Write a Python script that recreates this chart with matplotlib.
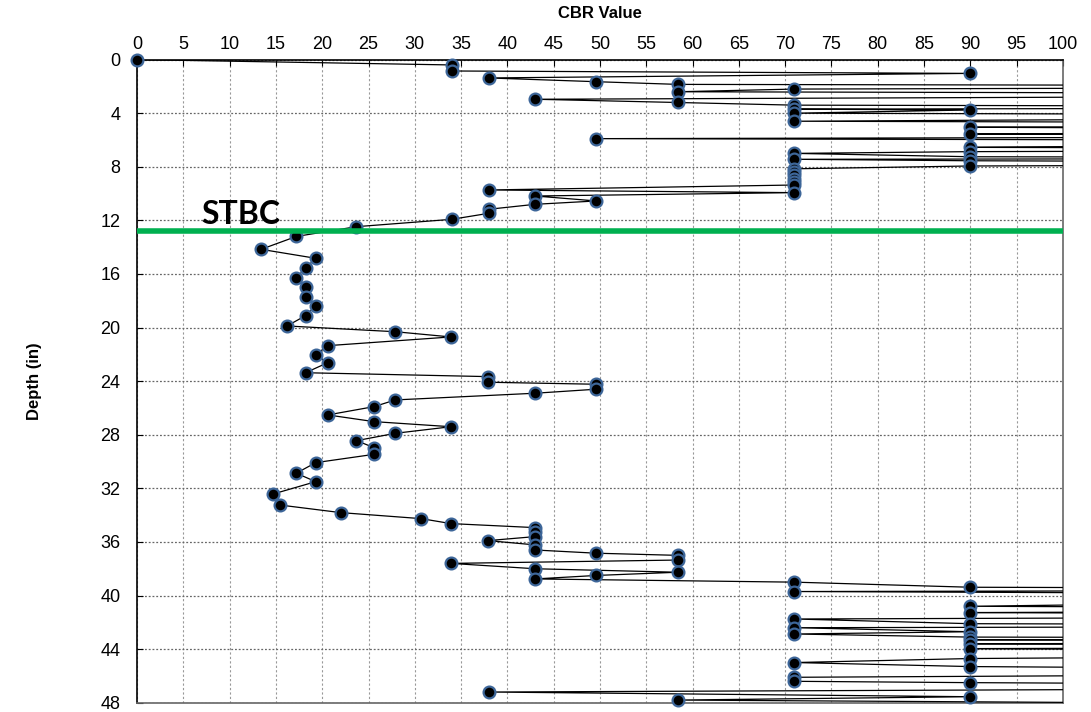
import matplotlib
matplotlib.use("Agg")
import matplotlib.pyplot as plt
import numpy as np

plt.rcParams['font.family'] = ['Liberation Sans', 'DejaVu Sans']

# DCP trace: depth (in) and CBR value; 180 stands for values off the chart (>100)
depth = [0.0, 0.4, 0.85, 1.03, 1.37, 1.65, 1.85, 2.0, 2.2, 2.4, 2.6, 2.96, 3.2, 3.4,
         3.55, 3.7, 3.76, 4.0, 4.2, 4.6, 4.8, 5.05, 5.3, 5.55, 5.7, 5.9, 6.1, 6.55,
         6.7, 6.87, 7.0, 7.25, 7.35, 7.44, 7.55, 7.75, 7.94, 8.15, 8.4, 8.65, 8.9,
         9.15, 9.36, 9.73, 9.93, 10.18, 10.55, 10.8, 11.17, 11.47, 11.92, 12.47,
         13.2, 14.16, 14.83, 15.57, 16.28, 16.99, 17.69, 18.39, 19.11, 19.88, 20.31,
         20.7, 21.35, 22.02, 22.62, 23.37, 23.66, 24.08, 24.23, 24.6, 24.9, 25.4,
         25.9, 26.52, 27.02, 27.4, 27.89, 28.44, 28.96, 29.46, 30.08, 30.87, 31.5,
         32.42, 33.24, 33.81, 34.26, 34.63, 34.93, 35.23, 35.6, 35.9, 36.22, 36.6,
         36.84, 37.0, 37.35, 37.6, 38.0, 38.26, 38.5, 38.76, 39.0, 39.38, 39.55,
         39.7, 40.0, 40.8, 41.05, 41.27, 41.5, 41.75, 42.1, 42.25, 42.4, 42.7,
         42.87, 43.1, 43.2, 43.3, 43.45, 43.6, 43.8, 43.96, 44.3, 44.7, 45.0, 45.3,
         45.7, 46.1, 46.4, 46.5, 46.8, 47.2, 47.55, 47.8, 48.3]
cbr = [0, 34, 34, 90, 38, 49.6, 58.4, 180, 71, 58.4, 180, 43, 58.4, 71,
       180, 71, 90, 71, 180, 71, 180, 90, 180, 90, 180, 49.6, 180, 90,
       180, 90, 71, 90, 180, 71, 90, 180, 90, 71, 71, 71, 71,
       71, 71, 38, 71, 43, 49.6, 43, 38, 38, 34, 23.7,
       17.2, 13.4, 19.3, 18.2, 17.2, 18.2, 18.2, 19.3, 18.2, 16.2, 27.9,
       33.9, 20.6, 19.3, 20.6, 18.2, 37.9, 37.9, 49.6, 49.6, 43, 27.9,
       25.6, 20.6, 25.6, 33.9, 27.9, 23.7, 25.6, 25.6, 19.3, 17.2, 19.3,
       14.7, 15.4, 22.0, 30.7, 33.9, 43, 43, 43, 37.9, 43, 43,
       49.6, 58.4, 58.4, 33.9, 43, 58.4, 49.6, 43, 71, 90, 180,
       71, 180, 90, 180, 90, 180, 71, 90, 180, 71, 90,
       71, 90, 180, 90, 180, 90, 180, 90, 180, 90, 71, 90,
       180, 71, 71, 90, 180, 38, 90, 58.4, 180]

stbc_depth = 12.8
x_ticks = np.arange(0, 101, 5)
y_ticks = np.arange(0, 49, 4)

depth = np.array(depth)
cbr = np.array(cbr)

fig = plt.figure(figsize=(10.91, 7.12), dpi=100)
ax = fig.add_axes([0.1256, 0.013, 0.8487, 0.9033])

ax.plot(cbr, depth, color='black', lw=0.9, zorder=3)
vis = cbr <= 100
ax.plot(cbr[vis], depth[vis], ls='none', marker='o', ms=8.5,
        mfc='black', mec='#3d6699', mew=1.6, zorder=4, clip_on=False)

ax.axhline(stbc_depth, color='#00b050', lw=4, zorder=5)
ax.text(11.2, 11.55, 'STBC', fontsize=23, fontweight='bold', family='Lato',
        ha='center', va='center', zorder=6)

ax.set_xlim(0, 100)
ax.set_ylim(48, 0)
ax.set_xticks(x_ticks)
ax.set_yticks(y_ticks)
ax.xaxis.tick_top()
ax.xaxis.set_label_position('top')
ax.tick_params(axis='x', direction='in', labelsize=13, length=4, pad=5)
ax.tick_params(axis='y', direction='in', labelsize=13, length=4, pad=12)
ax.set_xlabel('CBR Value', fontsize=12, fontweight='bold', labelpad=0)
ax.xaxis.set_label_coords(0.5, 1.065)
ax.set_ylabel('Depth (in)', fontsize=12, fontweight='bold')
ax.yaxis.set_label_coords(-0.103, 0.5)

ax.grid(axis='x', color='#999999', ls=(0, (2, 2)), lw=0.8)
ax.grid(axis='y', color='#666666', ls=(0, (1.5, 1.5)), lw=0.9)
ax.set_axisbelow(True)

for s in ['left', 'top']:
    ax.spines[s].set_color('black')
    ax.spines[s].set_linewidth(1.2)
for s in ['right', 'bottom']:
    ax.spines[s].set_color('#666666')
    ax.spines[s].set_linestyle((0, (1.5, 1)))
    ax.spines[s].set_linewidth(1.2)

fig.savefig('out.png', dpi=100)
